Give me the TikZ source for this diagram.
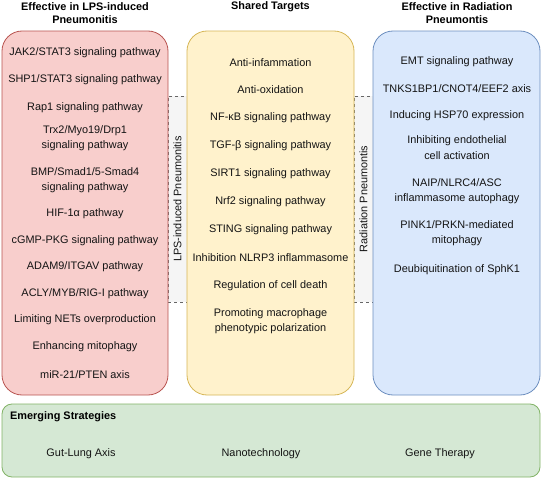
\documentclass[tikz,border=0pt]{standalone}
\usepackage{fontspec}
\setmainfont{Liberation Sans}
\definecolor{redfill}{HTML}{F8CECC}\definecolor{redline}{HTML}{B85450}
\definecolor{yelfill}{HTML}{FFF2CC}\definecolor{yelline}{HTML}{D6B656}
\definecolor{bluefill}{HTML}{DAE8FC}\definecolor{blueline}{HTML}{6C8EBF}
\definecolor{grnfill}{HTML}{D5E8D4}\definecolor{grnline}{HTML}{82B366}
\definecolor{gapfill}{HTML}{F5F5F5}\definecolor{gapline}{HTML}{666666}
\definecolor{txt}{HTML}{141414}
\begin{document}
\begin{tikzpicture}[x=1pt,y=-1pt,
  font=\fontsize{10.9}{15.5}\selectfont,
  panel/.style={draw, line width=0.8pt, rounded corners=20pt, inner sep=0pt},
  gap/.style={draw=gapline, fill=gapfill, dashed, line width=0.6pt, inner sep=0pt},
  item/.style={align=center, inner sep=1pt, text=txt},
  head/.style={align=center, inner sep=1pt, font=\fontsize{10.9}{12.5}\selectfont\bfseries, text=black}]
\useasboundingbox (0,0) rectangle (542,479);
% gaps
\node[gap, minimum width=19pt, minimum height=206pt] (gapL) at (177.5,199) {};
\node[gap, minimum width=19pt, minimum height=206pt] (gapR) at (363.5,199) {};
\node[item, rotate=90] (gapLt) at (gapL) {LPS-induced Pneumonitis};
\node[item, rotate=90] (gapRt) at (gapR) {Radiation Pneumontis};
% panels
\node[panel, draw=redline, fill=redfill, minimum width=166pt, minimum height=364pt] (lps) at (85,213) {};
\node[panel, draw=yelline, fill=yelfill, minimum width=167pt, minimum height=364pt] (shared) at (270.5,213) {};
\node[panel, draw=blueline, fill=bluefill, minimum width=167pt, minimum height=364pt] (rad) at (456.5,213) {};
\node[panel, rounded corners=10pt, draw=grnline, fill=grnfill, minimum width=538pt, minimum height=73pt] (emerg) at (271,440.5) {};
% headings
\node[head] (hL) at (85,13) {Effective in LPS-induced\\Pneumonitis};
\node[head] (hM) at (270.5,7) {Shared Targets};
\node[head] (hR) at (457,13) {Effective in Radiation\\Pneumontis};
\node[head, anchor=west] (hE) at (9,417) {Emerging Strategies};
% left items
\node[item] (l1) at (85,53) {JAK2/STAT3 signaling pathway};
\node[item] (l2) at (85,80) {SHP1/STAT3 signaling pathway};
\node[item] (l3) at (85,108) {Rap1 signaling pathway};
\node[item] (l4) at (85,138) {Trx2/Myo19/Drp1\\signaling pathway};
\node[item] (l5) at (85,180) {BMP/Smad1/5-Smad4\\signaling pathway};
\node[item] (l6) at (85,214) {HIF-1α pathway};
\node[item] (l7) at (85,241) {cGMP-PKG signaling pathway};
\node[item] (l8) at (85,267) {ADAM9/ITGAV pathway};
\node[item] (l9) at (85,294) {ACLY/MYB/RIG-I pathway};
\node[item] (l10) at (85,320) {Limiting NETs overproduction};
\node[item] (l11) at (85,347) {Enhancing mitophagy};
\node[item] (l12) at (85,375) {miR-21/PTEN axis};
% middle items
\node[item] (m1) at (270.5,63) {Anti-infammation};
\node[item] (m2) at (270.5,90) {Anti-oxidation};
\node[item] (m3) at (270.5,118) {NF-κB signaling pathway};
\node[item] (m4) at (270.5,146) {TGF-β signaling pathway};
\node[item] (m5) at (270.5,174) {SIRT1 signaling pathway};
\node[item] (m6) at (270.5,202) {Nrf2 signaling pathway};
\node[item] (m7) at (270.5,230) {STING signaling pathway};
\node[item] (m8) at (270.5,258) {Inhibition NLRP3 inflammasome};
\node[item] (m9) at (270.5,286) {Regulation of cell death};
\node[item] (m10) at (270.5,321) {Promoting macrophage\\phenotypic polarization};
% right items
\node[item] (r1) at (457,62) {EMT signaling pathway};
\node[item] (r2) at (457,89) {TNKS1BP1/CNOT4/EEF2 axis};
\node[item] (r3) at (457,116) {Inducing HSP70 expression};
\node[item] (r4) at (457,147.5) {Inhibiting endothelial\\cell activation};
\node[item] (r5) at (457,191) {NAIP/NLRC4/ASC\\inflammasome autophagy};
\node[item] (r6) at (457,233) {PINK1/PRKN-mediated\\mitophagy};
\node[item] (r7) at (457,270) {Deubiquitination of SphK1};
% emerging items
\node[item] (e1) at (81,454) {Gut-Lung Axis};
\node[item] (e2) at (261,454) {Nanotechnology};
\node[item] (e3) at (440,454) {Gene Therapy};
\end{tikzpicture}
\end{document}
